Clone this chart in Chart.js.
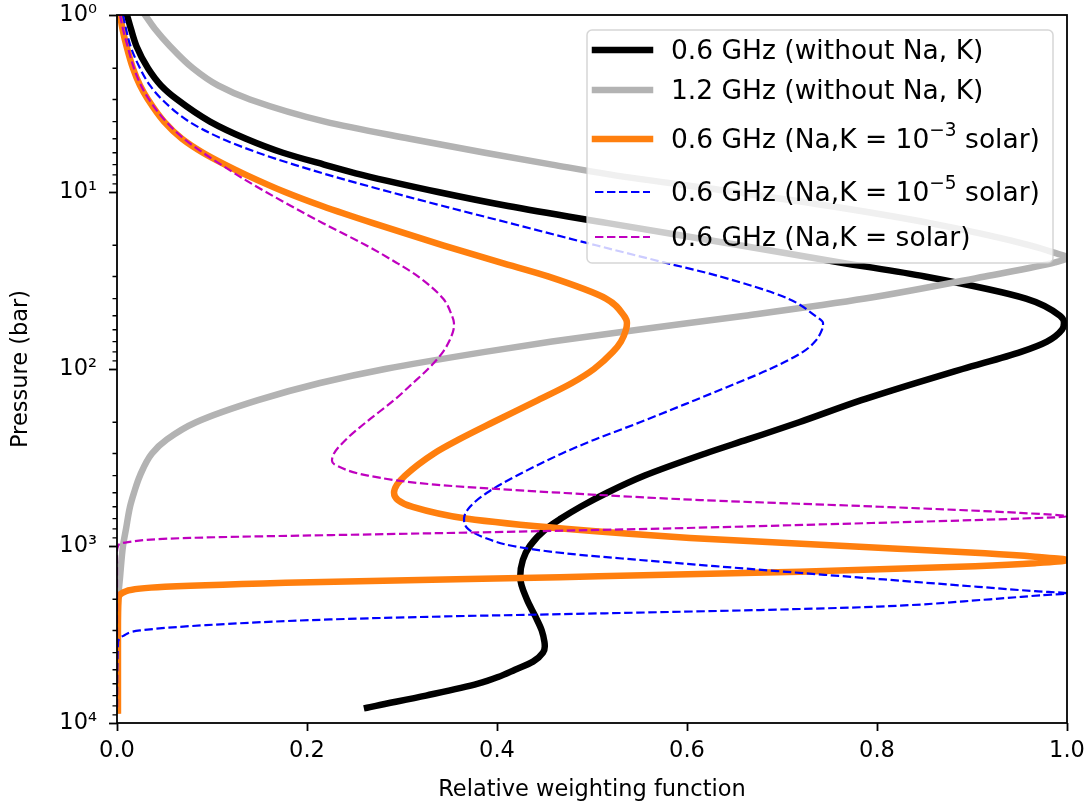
<!DOCTYPE html>
<html>
<head>
<meta charset="utf-8">
<title>Relative weighting function</title>
<script src="https://cdn.jsdelivr.net/npm/chart.js@4.4.1/dist/chart.umd.min.js"></script>
<style>
  html, body { margin: 0; padding: 0; background: #fff; }
  #wrap { width: 1090px; height: 810px; }
</style>
</head>
<body>
<div id="wrap"><canvas id="weightChart" width="1090" height="810"></canvas></div>
<script>
// ===== DATA =====
// pressure in bar, weight = relative weighting function
const pBlack = [1, 1.2, 1.5, 2, 2.5, 3, 4, 5, 6, 7, 8, 10, 12, 15, 20, 25, 30, 40, 50, 55, 60, 70, 80, 100, 120, 150, 200, 250, 300, 400, 500, 600, 700, 800, 1000, 1200, 1500, 2000, 2500, 3000, 3500, 3700, 4000, 4500, 5000, 5500, 6000, 7000, 8000, 8200];
const wBlack = [0.0105, 0.0147, 0.0205, 0.0326, 0.0463, 0.0632, 0.0979, 0.1358, 0.1747, 0.2179, 0.2579, 0.3379, 0.4116, 0.5168, 0.6553, 0.7611, 0.8505, 0.9568, 0.9926, 0.9968, 0.9947, 0.9789, 0.9516, 0.89, 0.8406, 0.7836, 0.718, 0.664, 0.6195, 0.5555, 0.5159, 0.4879, 0.4673, 0.4517, 0.4345, 0.4272, 0.4244, 0.4314, 0.4404, 0.4471, 0.45, 0.4503, 0.4484, 0.4379, 0.4189, 0.4011, 0.38, 0.3253, 0.2726, 0.2632];

const pGray = [1, 1.2, 1.5, 2, 2.5, 3, 4, 5, 6, 7, 8, 10, 12, 15, 20, 22, 23.5, 25, 30, 40, 50, 60, 70, 80, 100, 120, 150, 200, 250, 300, 400, 500, 600, 800, 1000, 1500, 2000, 3000, 8500];
const wGray = [0.0295, 0.04, 0.0558, 0.08, 0.1063, 0.14, 0.2189, 0.3084, 0.3874, 0.4579, 0.5211, 0.6505, 0.7505, 0.8558, 0.9611, 0.9863, 1.0, 0.9874, 0.9137, 0.7874, 0.6611, 0.5484, 0.4579, 0.3874, 0.2821, 0.2137, 0.1484, 0.0832, 0.0526, 0.0368, 0.0242, 0.0179, 0.0137, 0.0095, 0.0063, 0.0032, 0.0011, 0.0005, 0];

const pOrange = [1, 1.2, 1.5, 2, 2.5, 3, 4, 5, 6, 7, 8, 10, 12, 15, 20, 25, 30, 40, 50, 55, 60, 70, 80, 100, 120, 150, 200, 250, 300, 400, 450, 500, 550, 600, 700, 800, 900, 1000, 1100, 1150, 1200, 1250, 1300, 1400, 1500, 1600, 1700, 1800, 2000, 3000, 8500];
const wOrange = [0.0032, 0.0058, 0.01, 0.0168, 0.0242, 0.0326, 0.0495, 0.0684, 0.0905, 0.1137, 0.1358, 0.1768, 0.2158, 0.2695, 0.3432, 0.4032, 0.4537, 0.5147, 0.5337, 0.5368, 0.5358, 0.5305, 0.5221, 0.5021, 0.4789, 0.4432, 0.3958, 0.36, 0.3337, 0.3032, 0.2947, 0.2916, 0.2958, 0.3105, 0.3674, 0.4716, 0.6032, 0.7663, 0.9137, 0.9663, 1.0, 0.9663, 0.9032, 0.7189, 0.4663, 0.2032, 0.0505, 0.0095, 0.0016, 0.001, 0.001];

const pBlue = [1, 1.2, 1.5, 2, 2.5, 3, 4, 5, 6, 7, 8, 10, 12, 15, 20, 25, 30, 40, 50, 55, 60, 70, 80, 100, 120, 150, 200, 250, 300, 400, 500, 600, 700, 800, 900, 1000, 1100, 1200, 1300, 1400, 1500, 1600, 1700, 1800, 1850, 1900, 2000, 2200, 2300, 2400, 2500, 2600, 2800, 3000, 3200, 3500, 8500];
const wBlue = [0.0063, 0.0095, 0.0142, 0.0242, 0.0347, 0.0474, 0.0758, 0.1105, 0.1484, 0.1863, 0.2221, 0.2874, 0.3432, 0.4137, 0.5042, 0.5758, 0.6347, 0.7063, 0.7347, 0.7432, 0.7421, 0.7347, 0.7221, 0.6874, 0.6526, 0.6084, 0.5505, 0.5032, 0.4684, 0.4211, 0.3895, 0.3716, 0.3653, 0.3695, 0.3874, 0.4168, 0.4716, 0.5505, 0.6295, 0.7053, 0.7768, 0.8432, 0.9063, 0.9663, 1.0, 0.9716, 0.9189, 0.8011, 0.6768, 0.5137, 0.3453, 0.2242, 0.0937, 0.0242, 0.0074, 0.0011, 0];

const pMagenta = [1, 1.2, 1.5, 2, 2.5, 3, 4, 5, 6, 7, 8, 10, 12, 15, 20, 25, 30, 40, 50, 55, 60, 70, 80, 100, 120, 150, 200, 250, 300, 330, 350, 400, 450, 500, 550, 600, 650, 680, 700, 750, 800, 850, 900, 950, 1000, 1100, 8500];
const wMagenta = [0.0032, 0.0063, 0.0111, 0.0179, 0.0253, 0.0337, 0.0516, 0.0705, 0.0905, 0.1095, 0.1263, 0.1568, 0.1832, 0.2168, 0.2621, 0.2937, 0.3168, 0.3432, 0.3526, 0.3547, 0.3542, 0.3495, 0.3432, 0.3274, 0.3116, 0.2916, 0.2621, 0.2411, 0.2284, 0.2263, 0.2305, 0.2642, 0.3347, 0.4663, 0.6137, 0.8032, 0.9505, 1.0, 0.9505, 0.7611, 0.5611, 0.3189, 0.0768, 0.0116, 0.0011, 0, 0];

const seriesLabels = [
  "0.6 GHz (without Na, K)",
  "1.2 GHz (without Na, K)",
  "0.6 GHz (Na,K = 10^{−3} solar)",
  "0.6 GHz (Na,K = 10^{−5} solar)",
  "0.6 GHz (Na,K = solar)",
];

const xTickValues = [0, 0.2, 0.4, 0.6, 0.8, 1.0];
const xTickLabels = ["0.0", "0.2", "0.4", "0.6", "0.8", "1.0"];
const yTickValues = [1, 10, 100, 1000, 10000];
const yTickLabels = ["10⁰", "10¹", "10²", "10³", "10⁴"];

// ===== CHART =====
const FONT = '"DejaVu Sans", "Noto Sans", sans-serif';
Chart.defaults.font.family = FONT;
Chart.defaults.font.size = 22.5;
Chart.defaults.color = "#000";

function plainLabel(s) {
  return s.replace("^{−3}", "⁻³").replace("^{−5}", "⁻⁵");
}

// the curves are functions of pressure, so they are smoothed along the y axis
function makeSeries(idx, pressures, weights, style) {
  return Object.assign(
    {
      label: plainLabel(seriesLabels[idx]),
      data: pressures.map((p, i) => ({ x: weights[i], y: p })),
      pointRadius: 0,
      pointHoverRadius: 0,
      cubicInterpolationMode: "monotone",
      fill: false,
      clip: 0,
      borderJoinStyle: "round",
      borderCapStyle: "square",
    },
    style
  );
}

// draws text with ^{...} parts as superscripts
function drawRichText(ctx, text, x, y, size) {
  const parts = text.split(/\^\{([^}]*)\}/);
  parts.forEach((part, i) => {
    const sup = i % 2 === 1;
    const fs = sup ? size * 0.7 : size;
    ctx.font = fs + "px " + FONT;
    ctx.fillText(part, x, sup ? y - size * 0.45 : y);
    x += ctx.measureText(part).width;
  });
}

const frameAndLegend = {
  id: "frameAndLegend",
  afterDraw(chart) {
    const { ctx, chartArea: a } = chart;
    const yScale = chart.scales.y;
    ctx.save();

    // minor ticks of the log axis
    ctx.strokeStyle = "#000";
    ctx.lineWidth = 1.35;
    ctx.beginPath();
    for (let e = 0; e < 4; e++) {
      for (let m = 2; m <= 9; m++) {
        const py = yScale.getPixelForValue(m * Math.pow(10, e));
        ctx.moveTo(a.left, py);
        ctx.lineTo(a.left - 4.5, py);
      }
    }
    ctx.stroke();

    // axes frame
    ctx.lineWidth = 1.8;
    ctx.strokeRect(a.left, a.top, a.right - a.left, a.bottom - a.top);

    // legend box
    const fontSize = 26.5;
    const rowY = [20, 60, 109, 162, 207];
    const boxW = 466;
    const boxH = 233;
    const bx = a.right - 14 - boxW;
    const by = a.top + 15;
    const r = 5;
    ctx.beginPath();
    ctx.moveTo(bx + r, by);
    ctx.lineTo(bx + boxW - r, by);
    ctx.arcTo(bx + boxW, by, bx + boxW, by + r, r);
    ctx.lineTo(bx + boxW, by + boxH - r);
    ctx.arcTo(bx + boxW, by + boxH, bx + boxW - r, by + boxH, r);
    ctx.lineTo(bx + r, by + boxH);
    ctx.arcTo(bx, by + boxH, bx, by + boxH - r, r);
    ctx.lineTo(bx, by + r);
    ctx.arcTo(bx, by, bx + r, by, r);
    ctx.closePath();
    ctx.fillStyle = "rgba(255,255,255,0.8)";
    ctx.fill();
    ctx.strokeStyle = "rgba(204,204,204,0.8)";
    ctx.lineWidth = 1.5;
    ctx.stroke();

    chart.data.datasets.forEach((ds, i) => {
      const cy = by + rowY[i];
      ctx.beginPath();
      ctx.strokeStyle = ds.borderColor;
      ctx.lineWidth = ds.borderWidth;
      ctx.setLineDash(ds.borderDash || []);
      ctx.lineCap = ds.borderDash ? "butt" : "square";
      ctx.moveTo(bx + 8, cy);
      ctx.lineTo(bx + 63, cy);
      ctx.stroke();
      ctx.setLineDash([]);
      ctx.fillStyle = "#000";
      ctx.textBaseline = "alphabetic";
      ctx.textAlign = "left";
      drawRichText(ctx, seriesLabels[i], bx + 84, cy + 9, fontSize);
    });

    ctx.restore();
  },
};

const dashed = [8.4, 3.6];

new Chart(document.getElementById("weightChart"), {
  type: "line",
  data: {
    datasets: [
      makeSeries(0, pBlack, wBlack, { borderColor: "#000000", borderWidth: 6.5, order: 4 }),
      makeSeries(1, pGray, wGray, { borderColor: "#b3b3b3", borderWidth: 6.5, order: 3 }),
      makeSeries(2, pOrange, wOrange, { borderColor: "#ff7f0e", borderWidth: 6.5, order: 2 }),
      makeSeries(3, pBlue, wBlue, { borderColor: "#0000ff", borderWidth: 2.2, borderDash: dashed, borderCapStyle: "butt", order: 1 }),
      makeSeries(4, pMagenta, wMagenta, { borderColor: "#bf00bf", borderWidth: 2.2, borderDash: dashed, borderCapStyle: "butt", order: 0 }),
    ],
  },
  options: {
    indexAxis: "y",
    responsive: false,
    animation: false,
    devicePixelRatio: 1,
    layout: { padding: { top: 15, right: 23, left: 0, bottom: 0 } },
    plugins: {
      legend: { display: false },
      tooltip: { enabled: false },
    },
    scales: {
      x: {
        type: "linear",
        min: 0,
        max: 1,
        afterBuildTicks: (scale) => {
          scale.ticks = xTickValues.map((v) => ({ value: v }));
        },
        afterFit: (scale) => {
          scale.height = 87;
          scale.paddingLeft = 0;
          scale.paddingRight = 0;
        },
        ticks: {
          callback: (value, index) => xTickLabels[index],
          padding: 7,
          autoSkip: false,
          maxRotation: 0,
        },
        grid: { drawOnChartArea: false, drawTicks: true, tickLength: 8, tickWidth: 1.8, tickColor: "#000" },
        border: { display: false },
        title: {
          display: true,
          text: "Relative weighting function",
          padding: { top: 0, bottom: 6 },
        },
      },
      y: {
        type: "logarithmic",
        min: 1,
        max: 10000,
        reverse: true,
        afterBuildTicks: (scale) => {
          scale.ticks = yTickValues.map((v) => ({ value: v }));
        },
        afterFit: (scale) => {
          scale.width = 117;
          scale.paddingTop = 0;
          scale.paddingBottom = 0;
        },
        ticks: {
          callback: (value, index) => yTickLabels[index],
          padding: 12,
          autoSkip: false,
        },
        grid: { drawOnChartArea: false, drawTicks: true, tickLength: 8, tickWidth: 1.8, tickColor: "#000" },
        border: { display: false },
        title: {
          display: true,
          text: "Pressure (bar)",
          padding: { top: 8, bottom: 0 },
        },
      },
    },
  },
  plugins: [frameAndLegend],
});
</script>
</body>
</html>
